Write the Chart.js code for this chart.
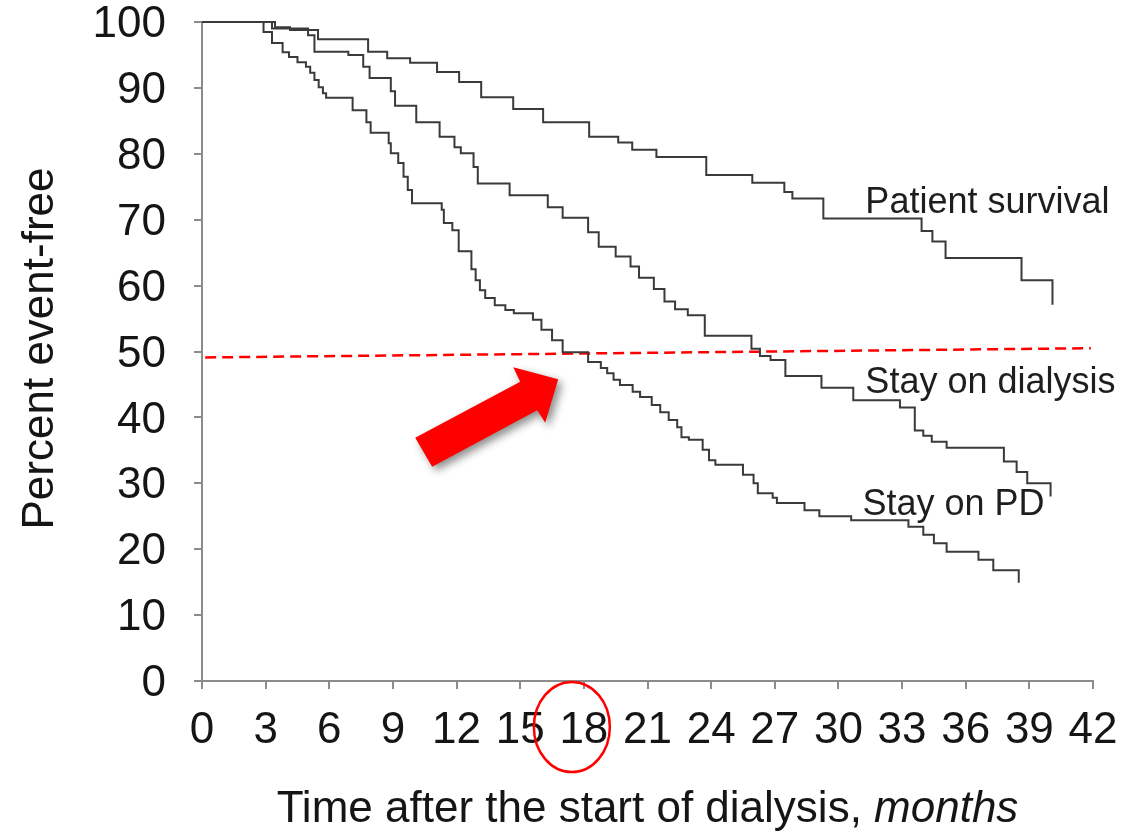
<!DOCTYPE html>
<html>
<head>
<meta charset="utf-8">
<script src="https://cdn.jsdelivr.net/npm/chart.js@4.4.1/dist/chart.umd.min.js"></script>
<style>
  html, body { margin: 0; padding: 0; background: #fff; }
  #wrap { width: 1127px; height: 835px; }
</style>
</head>
<body>
<div id="wrap"><canvas id="km" width="1127" height="835"></canvas></div>
<script>
// axis tick labels
const xTicks = [0, 3, 6, 9, 12, 15, 18, 21, 24, 27, 30, 33, 36, 39, 42];
const yTicks = [0, 10, 20, 30, 40, 50, 60, 70, 80, 90, 100];

// Patient survival (months, percent)
const survT = [0, 3.44, 4.15, 5.47, 7.83, 8.73, 9.81, 11.08, 12.12, 13.16, 14.67, 16.08, 18.25, 19.62, 20.28, 21.42, 23.77, 25.94, 27.45, 27.83, 29.29, 33.92, 34.43, 35.05, 38.63, 40.09];
const survV = [100, 99.2, 98.8, 97.4, 95.5, 94.5, 93.8, 92.4, 90.9, 88.6, 86.8, 84.8, 82.6, 81.7, 80.6, 79.5, 76.8, 75.6, 74.2, 73.2, 70.2, 68.3, 66.7, 64.2, 60.8, 57.1];

// Stay on dialysis
const dialT = [0, 3.3, 5.0, 5.3, 6.9, 7.6, 7.9, 8.9, 9.1, 10.1, 11.2, 11.9, 12.2, 12.8, 13.0, 14.5, 16.3, 17.0, 18.2, 18.7, 19.5, 20.2, 20.6, 21.3, 21.8, 22.3, 22.9, 23.7, 25.9, 26.3, 26.8, 27.5, 29.2, 30.7, 32.9, 33.6, 34.0, 34.4, 35.1, 37.8, 38.4, 38.9, 40.0];
const dialV = [100, 99.0, 98.0, 95.5, 95.0, 93.2, 91.5, 89.5, 87.3, 84.8, 82.6, 81.0, 80.1, 78.0, 75.5, 73.7, 71.9, 70.3, 68.1, 65.9, 64.4, 62.9, 61.2, 59.5, 57.6, 56.4, 55.5, 52.4, 50.4, 49.3, 48.7, 46.3, 44.5, 42.6, 41.5, 38.0, 37.2, 36.3, 35.4, 33.3, 31.7, 30.0, 28.0];

// Stay on PD
const pdT = [0, 2.9, 3.3, 3.8, 4.1, 4.5, 4.9, 5.1, 5.3, 5.5, 5.7, 5.85, 7.1, 7.75, 7.95, 8.8, 8.9, 9.25, 9.5, 9.7, 9.9, 11.3, 11.4, 11.8, 12.1, 12.7, 12.9, 13.1, 13.35, 13.8, 14.3, 14.7, 15.6, 16.0, 16.5, 17.0, 18.2, 18.8, 19.1, 19.4, 19.7, 20.3, 20.65, 21.2, 21.6, 22.0, 22.4, 22.6, 22.95, 23.6, 23.9, 24.2, 25.5, 26.0, 26.2, 26.9, 27.1, 28.4, 29.1, 30.6, 33.3, 34.0, 34.5, 35.1, 36.6, 37.3, 38.5];
const pdV = [100, 98.5, 96.8, 95.4, 94.7, 93.9, 93.2, 92.3, 91.2, 90.1, 89.2, 88.5, 86.6, 84.8, 83.2, 81.6, 80.1, 78.6, 76.5, 74.5, 72.5, 71.5, 69.5, 68.4, 65.2, 62.5, 60.8, 59.3, 58.1, 57.0, 56.3, 55.8, 54.8, 53.3, 51.7, 49.9, 48.4, 47.5, 46.7, 45.7, 44.9, 43.9, 43.1, 41.9, 40.8, 39.6, 38.5, 37.0, 36.6, 35.1, 33.5, 32.8, 31.3, 30.0, 28.5, 27.8, 27.0, 25.9, 25.0, 24.4, 23.4, 22.2, 20.9, 19.6, 18.4, 16.8, 14.9];

// red dashed 50% reference line
const refT = [0.15, 41.9];
const refV = [49.1, 50.5];

const FONT = '"Liberation Sans", Arial, Helvetica, sans-serif';

function pts(t, v) {
  return t.map((x, i) => ({ x: x, y: v[i] }));
}

const curveStyle = {
  borderColor: '#3a3a3a',
  borderWidth: 2,
  pointRadius: 0,
  stepped: true,
  fill: false,
  clip: false
};

const textPlugin = {
  id: 'texts',
  afterDraw(chart) {
    const ctx = chart.ctx;
    const xs = chart.scales.x;
    const ys = chart.scales.y;
    const area = chart.chartArea;
    ctx.save();
    ctx.fillStyle = '#151515';

    // tick labels
    ctx.font = '44px ' + FONT;
    ctx.textAlign = 'right';
    ctx.textBaseline = 'middle';
    yTicks.forEach(v => ctx.fillText(String(v), area.left - 36, ys.getPixelForValue(v) + 3));
    ctx.textAlign = 'center';
    ctx.textBaseline = 'alphabetic';
    xTicks.forEach(v => ctx.fillText(String(v), xs.getPixelForValue(v), area.bottom + 62));

    // y title
    ctx.save();
    ctx.translate(53, (area.top + area.bottom) / 2 - 3);
    ctx.rotate(-Math.PI / 2);
    ctx.textAlign = 'center';
    ctx.fillText('Percent event-free', 0, 0);
    ctx.restore();

    // x title, last word in italics
    const partA = 'Time after the start of dialysis, ';
    const partB = 'months';
    ctx.font = '44px ' + FONT;
    const wA = ctx.measureText(partA).width;
    ctx.font = 'italic 44px ' + FONT;
    const wB = ctx.measureText(partB).width;
    const x0 = (area.left + area.right) / 2 - (wA + wB) / 2;
    ctx.textAlign = 'left';
    ctx.font = '44px ' + FONT;
    ctx.fillText(partA, x0, 822);
    ctx.font = 'italic 44px ' + FONT;
    ctx.fillText(partB, x0 + wA, 822);

    // curve labels
    ctx.font = '36px ' + FONT;
    ctx.fillStyle = '#1e1e1e';
    ctx.fillText('Patient survival', xs.getPixelForValue(31.27), ys.getPixelForValue(71.0));
    ctx.fillText('Stay on dialysis', xs.getPixelForValue(31.27), ys.getPixelForValue(43.7));
    ctx.fillText('Stay on PD', xs.getPixelForValue(31.13), ys.getPixelForValue(25.2));

    // red arrow pointing at the crossing
    const arrow = [[10.05, 36.9], [15.0, 45.4], [14.67, 47.6], [16.79, 45.8], [16.18, 39.2], [15.8, 41.1], [10.85, 32.5]];
    ctx.save();
    ctx.beginPath();
    arrow.forEach((p, i) => {
      const px = xs.getPixelForValue(p[0]);
      const py = ys.getPixelForValue(p[1]);
      if (i === 0) ctx.moveTo(px, py); else ctx.lineTo(px, py);
    });
    ctx.closePath();
    ctx.shadowColor = 'rgba(0,0,0,0.45)';
    ctx.shadowBlur = 9;
    ctx.shadowOffsetX = 4;
    ctx.shadowOffsetY = 4;
    ctx.fillStyle = '#ff0000';
    ctx.fill();
    ctx.restore();

    // red ellipse around 18
    ctx.beginPath();
    ctx.ellipse(xs.getPixelForValue(18) - 12, area.bottom + 46, 38, 45, 0, 0, Math.PI * 2);
    ctx.strokeStyle = '#ff0000';
    ctx.lineWidth = 2.5;
    ctx.stroke();

    ctx.restore();
  }
};

new Chart(document.getElementById('km').getContext('2d'), {
  type: 'line',
  data: {
    datasets: [
      Object.assign({ label: 'Patient survival', data: pts(survT, survV) }, curveStyle),
      Object.assign({ label: 'Stay on dialysis', data: pts(dialT, dialV) }, curveStyle),
      Object.assign({ label: 'Stay on PD', data: pts(pdT, pdV) }, curveStyle),
      {
        label: '50%',
        data: pts(refT, refV),
        borderColor: '#ff0000',
        borderWidth: 2.5,
        borderDash: [11, 6],
        pointRadius: 0,
        fill: false,
        clip: false
      }
    ]
  },
  options: {
    responsive: false,
    animation: false,
    layout: { padding: { left: 194, right: 34, top: 22, bottom: 146 } },
    plugins: {
      legend: { display: false },
      tooltip: { enabled: false }
    },
    scales: {
      x: {
        type: 'linear',
        min: 0,
        max: 42,
        ticks: { stepSize: 3, display: false },
        grid: { drawOnChartArea: false, drawTicks: true, tickLength: 8, color: '#8c8c8c', lineWidth: 2 },
        border: { display: true, color: '#8c8c8c', width: 2 }
      },
      y: {
        type: 'linear',
        min: 0,
        max: 100,
        ticks: { stepSize: 10, display: false },
        grid: { drawOnChartArea: false, drawTicks: true, tickLength: 8, color: '#8c8c8c', lineWidth: 2 },
        border: { display: true, color: '#8c8c8c', width: 2 }
      }
    }
  },
  plugins: [textPlugin]
});
</script>
</body>
</html>
